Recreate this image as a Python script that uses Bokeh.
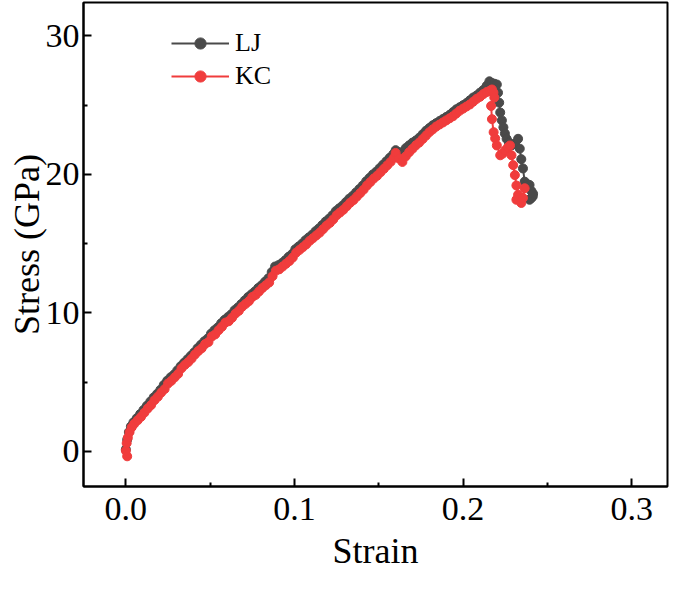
from bokeh.plotting import figure
from bokeh.models import Range1d, Legend, LegendItem, FixedTicker, PrintfTickFormatter
from bokeh.embed import file_html
from bokeh.resources import INLINE

# ---------------- data ----------------
# LJ series: (strain, stress in GPa)
lj_points = [
    (0.0000, 0.15), (0.0008, 0.85), (0.0018, 1.40), (0.0030, 1.80), (0.0045, 2.10),
    (0.0065, 2.40), (0.0085, 2.70), (0.0105, 3.00), (0.0125, 3.30), (0.0145, 3.60),
    (0.0165, 3.90), (0.0185, 4.15), (0.0205, 4.45), (0.0225, 4.80), (0.0245, 5.10),
    (0.0265, 5.35), (0.0285, 5.55), (0.0305, 5.85), (0.0325, 6.15), (0.0345, 6.40),
    (0.0365, 6.65), (0.0385, 6.90), (0.0405, 7.15), (0.0425, 7.45), (0.0445, 7.70),
    (0.0465, 7.95), (0.0485, 8.15), (0.0505, 8.50), (0.0525, 8.75), (0.0545, 8.95),
    (0.0565, 9.25), (0.0585, 9.50), (0.0605, 9.70), (0.0625, 9.90), (0.0645, 10.20),
    (0.0665, 10.40), (0.0685, 10.65), (0.0705, 10.90), (0.0725, 11.15), (0.0745, 11.35),
    (0.0765, 11.55), (0.0785, 11.80), (0.0805, 12.00), (0.0825, 12.25), (0.0845, 12.50),
    (0.0865, 12.95), (0.0885, 13.35), (0.0905, 13.45), (0.0925, 13.60), (0.0945, 13.80),
    (0.0965, 14.05), (0.0985, 14.25), (0.1005, 14.60), (0.1025, 14.80), (0.1045, 15.00),
    (0.1065, 15.25), (0.1085, 15.45), (0.1105, 15.65), (0.1125, 15.90), (0.1145, 16.10),
    (0.1165, 16.35), (0.1185, 16.60), (0.1205, 16.80), (0.1225, 17.05), (0.1245, 17.35),
    (0.1265, 17.55), (0.1285, 17.75), (0.1305, 18.00), (0.1325, 18.25), (0.1345, 18.45),
    (0.1365, 18.70), (0.1385, 18.95), (0.1405, 19.20), (0.1425, 19.50), (0.1445, 19.75),
    (0.1465, 20.00), (0.1485, 20.20), (0.1505, 20.45), (0.1525, 20.70), (0.1545, 20.95),
    (0.1565, 21.20), (0.1585, 21.45), (0.1600, 21.75), (0.1620, 21.60), (0.1640, 21.60),
    (0.1660, 21.90), (0.1680, 22.10), (0.1700, 22.30), (0.1720, 22.45), (0.1740, 22.65),
    (0.1760, 22.90), (0.1780, 23.15), (0.1800, 23.35), (0.1820, 23.55), (0.1840, 23.70),
    (0.1860, 23.85), (0.1880, 24.00), (0.1900, 24.15), (0.1920, 24.30), (0.1940, 24.50),
    (0.1960, 24.70), (0.1980, 24.85), (0.2000, 25.00), (0.2020, 25.15), (0.2040, 25.35),
    (0.2060, 25.55), (0.2080, 25.70), (0.2100, 25.90), (0.2120, 26.10), (0.2140, 26.40),
    (0.2156, 26.72), (0.2170, 26.60), (0.2185, 26.55), (0.2200, 26.49), (0.2207, 25.90),
    (0.2214, 25.18), (0.2220, 24.47), (0.2230, 23.90), (0.2239, 23.40), (0.2248, 22.95),
    (0.2258, 22.57), (0.2272, 22.30), (0.2287, 22.09), (0.2305, 22.20), (0.2326, 22.57),
    (0.2336, 21.86), (0.2345, 21.10), (0.2355, 20.43), (0.2365, 19.48), (0.2380, 19.30),
    (0.2394, 19.24), (0.2405, 18.80), (0.2413, 18.41), (0.2394, 18.17), (0.2405, 18.30),
    (0.2415, 18.60),
]

# KC series: (strain, stress in GPa)
kc_points = [
    (0.0008, -0.35), (0.0000, 0.05), (0.0005, 0.60), (0.0012, 1.00), (0.0022, 1.40),
    (0.0035, 1.75), (0.0050, 2.00), (0.0070, 2.25), (0.0090, 2.50), (0.0110, 2.80),
    (0.0130, 3.10), (0.0150, 3.35), (0.0170, 3.70), (0.0190, 3.95), (0.0210, 4.25),
    (0.0230, 4.50), (0.0250, 4.90), (0.0270, 5.10), (0.0290, 5.35), (0.0310, 5.60),
    (0.0330, 6.00), (0.0350, 6.25), (0.0370, 6.45), (0.0390, 6.70), (0.0410, 7.00),
    (0.0430, 7.25), (0.0450, 7.45), (0.0470, 7.75), (0.0490, 7.90), (0.0510, 8.30),
    (0.0530, 8.45), (0.0550, 8.75), (0.0570, 9.00), (0.0590, 9.30), (0.0610, 9.40),
    (0.0630, 9.65), (0.0650, 9.95), (0.0670, 10.15), (0.0690, 10.45), (0.0710, 10.65),
    (0.0730, 10.85), (0.0750, 11.15), (0.0770, 11.30), (0.0790, 11.55), (0.0810, 11.80),
    (0.0830, 12.00), (0.0850, 12.20), (0.0870, 12.65), (0.0890, 13.05), (0.0910, 13.15),
    (0.0930, 13.35), (0.0950, 13.55), (0.0970, 13.75), (0.0990, 14.00), (0.1010, 14.35),
    (0.1030, 14.55), (0.1050, 14.75), (0.1070, 14.95), (0.1090, 15.20), (0.1110, 15.40),
    (0.1130, 15.60), (0.1150, 15.80), (0.1170, 16.05), (0.1190, 16.30), (0.1210, 16.50),
    (0.1230, 16.75), (0.1250, 17.05), (0.1270, 17.25), (0.1290, 17.45), (0.1310, 17.70),
    (0.1330, 17.95), (0.1350, 18.15), (0.1370, 18.40), (0.1390, 18.65), (0.1410, 18.90),
    (0.1430, 19.20), (0.1450, 19.45), (0.1470, 19.70), (0.1490, 19.90), (0.1510, 20.15),
    (0.1530, 20.40), (0.1550, 20.65), (0.1570, 20.90), (0.1590, 21.20), (0.1600, 21.55),
    (0.1620, 21.15), (0.1640, 20.90), (0.1660, 21.30), (0.1680, 21.60), (0.1700, 21.85),
    (0.1720, 22.10), (0.1740, 22.30), (0.1760, 22.55), (0.1780, 22.80), (0.1800, 23.05),
    (0.1820, 23.25), (0.1840, 23.45), (0.1860, 23.60), (0.1880, 23.75), (0.1900, 23.90),
    (0.1920, 24.05), (0.1940, 24.20), (0.1960, 24.40), (0.1980, 24.60), (0.2000, 24.75),
    (0.2020, 24.90), (0.2040, 25.05), (0.2060, 25.25), (0.2080, 25.45), (0.2100, 25.60),
    (0.2120, 25.80), (0.2140, 25.95), (0.2160, 26.05), (0.2171, 26.13), (0.2180, 25.90),
    (0.2185, 25.55), (0.2166, 24.94), (0.2171, 23.99), (0.2181, 23.05), (0.2190, 22.60),
    (0.2200, 22.09), (0.2220, 21.38), (0.2235, 21.50), (0.2249, 21.73), (0.2265, 21.95),
    (0.2278, 22.09), (0.2287, 21.38), (0.2297, 20.67), (0.2307, 19.95), (0.2316, 19.20),
    (0.2326, 18.53), (0.2316, 18.17), (0.2345, 17.94), (0.2355, 18.30), (0.2365, 19.00),
]

lj_strain = [pt[0] for pt in lj_points]
lj_stress = [pt[1] for pt in lj_points]
kc_strain = [pt[0] for pt in kc_points]
kc_stress = [pt[1] for pt in kc_points]

x_ticks = [0.0, 0.1, 0.2, 0.3]
x_minor = [0.05, 0.15, 0.25]
y_ticks = [0, 10, 20, 30]
y_minor = [5, 15, 25]
series_names = ["LJ", "KC"]
series_colors = ["#4a4a4a", "#f03c3c"]

FONT = "Liberation Serif"

p = figure(width=669, height=575, output_backend="svg", toolbar_location=None,
           x_range=Range1d(-0.0251, 0.3212), y_range=Range1d(-2.53, 32.41),
           min_border_left=83, min_border_right=2, min_border_top=2, min_border_bottom=89)

p.outline_line_color = "black"
p.outline_line_width = 2
p.grid.visible = False

rs = []
for xs, ys, col in [(lj_strain, lj_stress, series_colors[0]), (kc_strain, kc_stress, series_colors[1])]:
    l = p.line(xs, ys, line_color=col, line_width=2)
    s = p.scatter(xs, ys, marker="circle", size=9, fill_color=col, line_color=col)
    rs.append((l, s))

legend = Legend(items=[LegendItem(label=series_names[i], renderers=list(rs[i])) for i in range(2)],
                location=(88, 395), margin=0, padding=0, spacing=3,
                glyph_width=58, glyph_height=28, label_height=28, label_standoff=6,
                label_text_font=FONT, label_text_font_size="26px", label_text_color="black",
                border_line_alpha=0, background_fill_alpha=0)
p.add_layout(legend)

for ax in (p.xaxis[0], p.yaxis[0]):
    ax.axis_line_width = 2
    ax.axis_line_color = "black"
    ax.major_tick_line_width = 2
    ax.minor_tick_line_width = 2
    ax.major_tick_line_color = "black"
    ax.minor_tick_line_color = "black"
    ax.major_tick_in = 8
    ax.major_tick_out = 0
    ax.minor_tick_in = 4
    ax.minor_tick_out = 0
    ax.major_label_text_font = FONT
    ax.major_label_text_font_size = "34px"
    ax.major_label_text_color = "black"
    ax.axis_label_text_font = FONT
    ax.axis_label_text_font_size = "36px"
    ax.axis_label_text_font_style = "normal"
    ax.axis_label_text_color = "black"

p.xaxis.ticker = FixedTicker(ticks=x_ticks, minor_ticks=x_minor)
p.yaxis.ticker = FixedTicker(ticks=y_ticks, minor_ticks=y_minor)
p.xaxis.formatter = PrintfTickFormatter(format="%.1f")
p.xaxis.axis_label = "Strain"
p.yaxis.axis_label = "Stress (GPa)"
p.xaxis.major_label_standoff = 11
p.xaxis.axis_label_standoff = 8
p.yaxis.major_label_standoff = 4
p.yaxis.axis_label_standoff = -4

open("out.html", "w").write(file_html(p, INLINE))
